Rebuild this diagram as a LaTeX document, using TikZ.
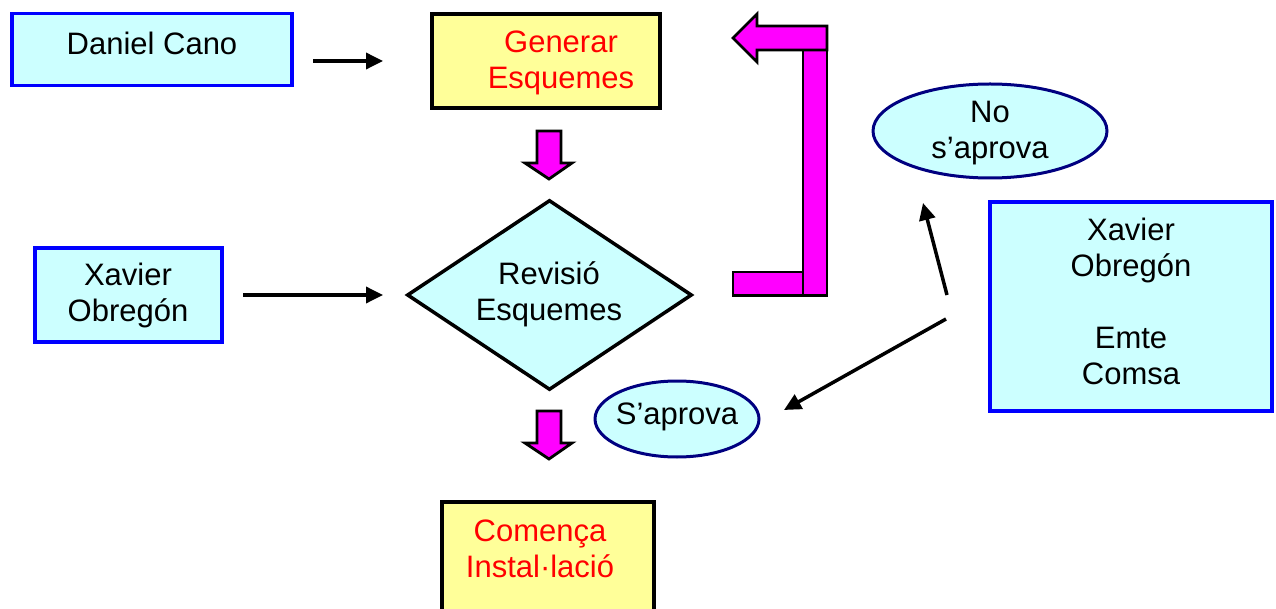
\documentclass[tikz,border=0pt]{standalone}
\usepackage{fontspec}
\setmainfont{Liberation Sans}
\usetikzlibrary{shapes.geometric,arrows.meta}
\definecolor{paleCyan}{HTML}{CCFFFF}
\definecolor{paleYellow}{HTML}{FFFF99}
\definecolor{pureBlue}{HTML}{0000FF}
\definecolor{darkNavy}{HTML}{000080}
\definecolor{brightMagenta}{HTML}{FF00FF}
\definecolor{pureRed}{HTML}{FF0000}
\tikzset{
  txt/.style={font=\fontsize{31}{36}\selectfont, align=center, inner sep=0pt},
  redtxt/.style={txt, text=pureRed},
  actor/.style={draw=pureBlue, line width=3.5pt, fill=paleCyan, rectangle, inner sep=0pt},
  task/.style={draw=black, line width=3.5pt, fill=paleYellow, rectangle, inner sep=0pt},
  verdict/.style={draw=darkNavy, line width=3pt, fill=paleCyan, ellipse, inner sep=0pt},
  decision/.style={draw=black, line width=3.5pt, fill=paleCyan, diamond, inner sep=0pt},
  flow/.style={draw=black, line width=3.5pt, -{Triangle[length=17pt,width=16pt]}},
  block/.style={draw=black, line width=2.8pt, fill=brightMagenta, line join=miter}
}
\begin{document}
\begin{tikzpicture}[x=1pt,y=-1pt]
\useasboundingbox (0,0) rectangle (1276,609);
\clip (0,0) rectangle (1276,609);

% shapes
\node[actor, minimum width=280pt, minimum height=72pt] (daniel) at (152,49.5) {};
\node[task, minimum width=228pt, minimum height=94pt] (generar) at (546,61) {};
\node[decision, minimum width=285pt, minimum height=190pt] (revisio) at (549.5,295) {};
\node[actor, minimum width=187pt, minimum height=94pt] (xavierL) at (128.5,295) {};
\node[actor, minimum width=282pt, minimum height=209pt] (xavierR) at (1131,306.5) {};
\node[verdict, minimum width=234pt, minimum height=94pt] (noaprova) at (990,131) {};
\node[verdict, minimum width=164pt, minimum height=76pt] (saprova) at (677,419) {};
\node[task, minimum width=212pt, minimum height=124pt] (comenca) at (548,564) {};

% labels
\node[txt] (danielT) at (152,43) {Daniel Cano};
\node[redtxt] (generarT) at (561,63) {Generar\\Esquemes};
\node[txt] (revisioT) at (549,294) {Revisió\\Esquemes};
\node[txt] (xavierLT) at (128,295) {Xavier\\Obregón};
\node[txt] (xavierRT) at (1131,301) {Xavier\\Obregón\\[36pt]Emte\\Comsa};
\node[txt] (noaprovaT) at (990,133) {No\\s’aprova};
\node[txt] (saprovaT) at (677,417) {S’aprova};
\node[redtxt] (comencaT) at (540,549) {Comença\\Instal·lació};

% connector end points
\coordinate (c1s) at (313,61);   \coordinate (c1e) at (383,61);
\coordinate (c2s) at (243,295);  \coordinate (c2e) at (383,295);
\coordinate (c3s) at (947,295);  \coordinate (c3e) at (923,203);
\coordinate (c4s) at (946,319);  \coordinate (c4e) at (784,410);

\draw[flow] (c1s) -- (c1e);
\draw[flow] (c2s) -- (c2e);
\draw[flow] (c3s) -- (c3e);
\draw[flow] (c4s) -- (c4e);

% block arrows down
\draw[block] (537,131) -- (561,131) -- (561,163) -- (572,163) -- (549,179)
  -- (525,163) -- (537,163) -- cycle;
\draw[block] (537,411) -- (561,411) -- (561,443) -- (572,443) -- (549,459)
  -- (525,443) -- (537,443) -- cycle;

% return loop back to the first step
\draw[block] (733,272) rectangle (803,295.5);
\draw[block] (803,50) rectangle (827,295.5);
\draw[block] (827,26) -- (757,26) -- (757,14) -- (733,38) -- (757,62)
  -- (757,50) -- (827,50) -- cycle;
\end{tikzpicture}
\end{document}
